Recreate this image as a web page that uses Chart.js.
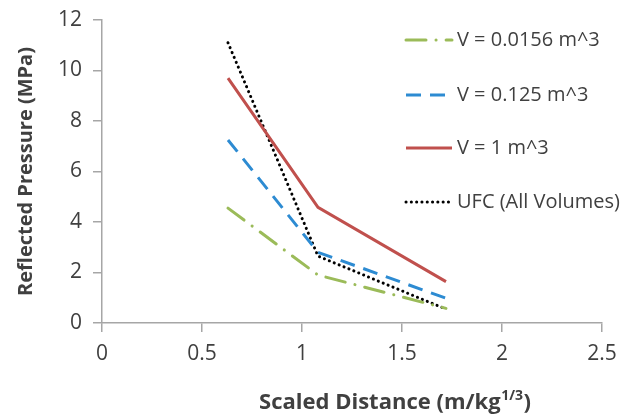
<!DOCTYPE html>
<html>
<head>
<meta charset="utf-8">
<script src="https://cdn.jsdelivr.net/npm/chart.js@4"></script>
<style>
  html, body { margin: 0; padding: 0; background: #fff; }
  #wrap { width: 626px; height: 417px; }
</style>
</head>
<body>
<div id="wrap"><canvas id="pressureChart" width="626" height="417"></canvas></div>
<script>
// scaled distance (m/kg^1/3) and reflected pressure (MPa)
const distances = [0.63, 1.08, 1.72];
const pSmall = [4.55, 1.9, 0.58];
const pMedium = [7.25, 2.8, 0.98];
const pLarge = [9.7, 4.58, 1.64];
const pUfc = [11.1, 2.65, 0.55];

const seriesLabels = ['V = 0.0156 m^3', 'V = 0.125 m^3', 'V = 1 m^3', 'UFC (All Volumes)'];
const xTicks = [0, 0.5, 1, 1.5, 2, 2.5];
const yTicks = [0, 2, 4, 6, 8, 10, 12];

const FONT = "'Open Sans', sans-serif";
const AXIS_GREY = '#a6a6a6';
const TEXT_GREY = '#404040';

function points(values) {
  return distances.map((d, i) => ({ x: d, y: values[i] }));
}

const styles = [
  { color: '#9bbb59', dash: [20, 10, 0.1, 10], cap: 'round' },
  { color: '#2d8bd2', dash: [15, 9], cap: 'butt' },
  { color: '#c0504d', dash: [], cap: 'butt' },
  { color: '#000000', dash: [0.1, 5.2], cap: 'round' }
];

const datasets = [pSmall, pMedium, pLarge, pUfc].map((vals, i) => ({
  label: seriesLabels[i],
  data: points(vals),
  showLine: true,
  borderColor: styles[i].color,
  borderWidth: 3,
  borderDash: styles[i].dash,
  borderCapStyle: styles[i].cap,
  pointRadius: 0,
  fill: false,
  tension: 0
}));

// legend drawn inside the plot, one row per series
const sideLegend = {
  id: 'sideLegend',
  afterDraw(chart) {
    const ctx = chart.ctx;
    const rows = [40, 95, 148, 202];
    ctx.save();
    chart.data.datasets.forEach((ds, i) => {
      const y = rows[i];
      ctx.beginPath();
      ctx.strokeStyle = ds.borderColor;
      ctx.lineWidth = 3;
      ctx.lineCap = ds.borderCapStyle;
      ctx.setLineDash(ds.borderDash);
      ctx.moveTo(406, y);
      ctx.lineTo(452, y);
      ctx.stroke();
      ctx.setLineDash([]);
      ctx.fillStyle = TEXT_GREY;
      ctx.font = '20px ' + FONT;
      ctx.textBaseline = 'middle';
      ctx.textAlign = 'left';
      ctx.fillText(ds.label, 457, y);
    });
    ctx.restore();
  }
};

// x axis title with a superscript exponent
const xTitle = {
  id: 'xTitle',
  afterDraw(chart) {
    const ctx = chart.ctx;
    const main = 'Scaled Distance (m/kg';
    const sup = '1/3';
    const tail = ')';
    ctx.save();
    ctx.fillStyle = TEXT_GREY;
    ctx.textBaseline = 'alphabetic';
    ctx.textAlign = 'left';
    ctx.font = 'bold 22px ' + FONT;
    const w1 = ctx.measureText(main).width;
    const w3 = ctx.measureText(tail).width;
    ctx.font = 'bold 14px ' + FONT;
    const w2 = ctx.measureText(sup).width;
    let x = 395 - (w1 + w2 + w3 + 1) / 2;
    const base = 409;
    ctx.font = 'bold 22px ' + FONT;
    ctx.fillText(main, x, base);
    x += w1 + 0.5;
    ctx.font = 'bold 14px ' + FONT;
    ctx.fillText(sup, x, base - 9);
    x += w2 + 0.5;
    ctx.font = 'bold 22px ' + FONT;
    ctx.fillText(tail, x, base);
    ctx.restore();
  }
};

new Chart(document.getElementById('pressureChart'), {
  type: 'scatter',
  data: { datasets: datasets },
  plugins: [sideLegend, xTitle],
  options: {
    responsive: false,
    animation: false,
    layout: { padding: { top: 20, right: 24, left: 0, bottom: 0 } },
    plugins: {
      legend: { display: false },
      tooltip: { enabled: false }
    },
    scales: {
      x: {
        type: 'linear',
        min: 0,
        max: 2.5,
        afterBuildTicks(scale) { scale.ticks = xTicks.map(v => ({ value: v })); },
        afterFit(scale) { scale.height = 94; },
        ticks: {
          color: TEXT_GREY,
          font: { family: FONT, size: 21 },
          padding: 9,
          maxRotation: 0,
          callback: v => String(v)
        },
        grid: { display: true, drawOnChartArea: false, drawTicks: true, tickLength: 9, color: AXIS_GREY, lineWidth: 1.5 },
        border: { display: true, color: AXIS_GREY, width: 1.5 }
      },
      y: {
        min: 0,
        max: 12,
        afterBuildTicks(scale) { scale.ticks = yTicks.map(v => ({ value: v })); },
        afterFit(scale) {
          scale.width = 102;
          scale.paddingTop = 0;
          scale.paddingBottom = 0;
        },
        ticks: { color: TEXT_GREY, font: { family: FONT, size: 21 }, padding: 11 },
        grid: { display: true, drawOnChartArea: false, drawTicks: true, tickLength: 9, color: AXIS_GREY, lineWidth: 1.5 },
        border: { display: true, color: AXIS_GREY, width: 1.5 },
        title: {
          display: true,
          text: 'Reflected Pressure (MPa)',
          color: TEXT_GREY,
          font: { family: FONT, size: 20, weight: 'bold' },
          padding: { top: 14, bottom: 0 }
        }
      }
    }
  }
});
</script>
</body>
</html>
